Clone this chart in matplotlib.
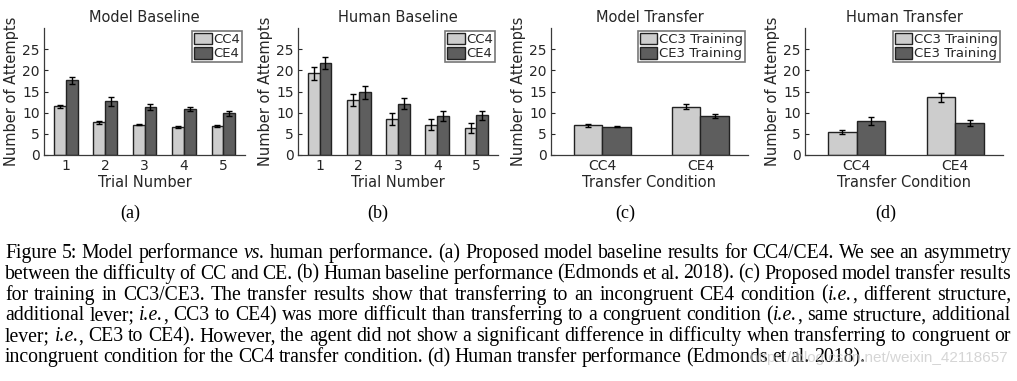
import numpy as np
import matplotlib
matplotlib.use("Agg")
import matplotlib.pyplot as plt

# --- data ---
trials = [1, 2, 3, 4, 5]
model_cc4 = [11.5, 7.7, 7.2, 6.6, 6.9]
model_cc4_err = [0.3, 0.3, 0.2, 0.2, 0.3]
model_ce4 = [17.6, 12.7, 11.4, 10.9, 9.9]
model_ce4_err = [0.9, 1.1, 0.7, 0.5, 0.6]

human_cc4 = [19.3, 12.9, 8.5, 7.2, 6.4]
human_cc4_err = [1.5, 1.4, 1.5, 1.2, 1.1]
human_ce4 = [21.8, 14.8, 12.1, 9.3, 9.4]
human_ce4_err = [1.4, 1.5, 1.3, 1.2, 1.1]

transfer_conds = ["CC4", "CE4"]
model_cc3 = [7.0, 11.4]
model_cc3_err = [0.3, 0.6]
model_ce3 = [6.7, 9.2]
model_ce3_err = [0.2, 0.5]

human_cc3 = [5.4, 13.6]
human_cc3_err = [0.4, 1.0]
human_ce3 = [8.1, 7.6]
human_ce3_err = [0.9, 0.7]

caption = [
    "Figure 5: Model performance *vs.* human performance. (a) Proposed model baseline results for CC4/CE4. We see an asymmetry",
    "between the difficulty of CC and CE. (b) Human baseline performance (Edmonds et al. 2018). (c) Proposed model transfer results",
    "for training in CC3/CE3. The transfer results show that transferring to an incongruent CE4 condition (*i.e.*, different structure,",
    "additional lever; *i.e.*, CC3 to CE4) was more difficult than transferring to a congruent condition (*i.e.*, same structure, additional",
    "lever; *i.e.*, CE3 to CE4). However, the agent did not show a significant difference in difficulty when transferring to congruent or",
    "incongruent condition for the CC4 transfer condition. (d) Human transfer performance (Edmonds et al. 2018).",
]

W, H = 1017, 381
LIGHT = "#cdcdcd"
DARK = "#5e5e5e"
TXT = "#262626"

fig = plt.figure(figsize=(W / 100, H / 100), dpi=100)
plt.rcParams["font.family"] = "DejaVu Sans"


def make_axes(left, right):
    return fig.add_axes([left / W, (H - 155) / H, (right - left) / W, 127 / H])


def style(ax, title, xlabel):
    ax.set_ylim(0, 30)
    ax.set_yticks([0, 5, 10, 15, 20, 25])
    ax.set_title(title, fontsize=10.5, color=TXT, pad=4)
    ax.set_xlabel(xlabel, fontsize=10.5, color=TXT, labelpad=1)
    ax.set_ylabel("Number of Attempts", fontsize=10.5, color=TXT, labelpad=2)
    for s in ["top", "right"]:
        ax.spines[s].set_visible(False)
    for s in ["left", "bottom"]:
        ax.spines[s].set_color("#3a3a3a")
        ax.spines[s].set_linewidth(0.9)
    ax.tick_params(direction="in", length=3, labelsize=10, colors=TXT, pad=3)


def grouped(ax, x, a, ae, b, be, w, labels):
    x = np.asarray(x, dtype=float)
    ek = dict(ecolor="black", elinewidth=1, capsize=2, capthick=1)
    ax.bar(x - w / 2, a, w, yerr=ae, color=LIGHT, edgecolor="#222222",
           linewidth=1, label=labels[0], error_kw=ek)
    ax.bar(x + w / 2, b, w, yerr=be, color=DARK, edgecolor="#222222",
           linewidth=1, label=labels[1], error_kw=ek)
    leg = ax.legend(loc="upper right", fontsize=9.5, frameon=True, fancybox=False,
                    handlelength=1.3, handleheight=1.0, handletextpad=0.15,
                    borderpad=0.15, labelspacing=0.05, borderaxespad=0.2)
    leg.get_frame().set_edgecolor("#555555")
    leg.get_frame().set_linewidth(1.2)
    for t in leg.get_texts():
        t.set_color(TXT)


ax1 = make_axes(44, 245)
grouped(ax1, trials, model_cc4, model_cc4_err, model_ce4, model_ce4_err, 0.3, ["CC4", "CE4"])
ax1.set_xlim(0.45, 5.55)
ax1.set_xticks(trials)
style(ax1, "Model Baseline", "Trial Number")

ax2 = make_axes(298, 498)
grouped(ax2, trials, human_cc4, human_cc4_err, human_ce4, human_ce4_err, 0.3, ["CC4", "CE4"])
ax2.set_xlim(0.45, 5.55)
ax2.set_xticks(trials)
style(ax2, "Human Baseline", "Trial Number")

xt = np.arange(1, len(transfer_conds) + 1)
ax3 = make_axes(551, 748)
grouped(ax3, xt, model_cc3, model_cc3_err, model_ce3, model_ce3_err, 0.29,
        ["CC3 Training", "CE3 Training"])
ax3.set_xlim(0.475, 2.485)
ax3.set_xticks(xt, transfer_conds)
style(ax3, "Model Transfer", "Transfer Condition")

ax4 = make_axes(805, 1003)
grouped(ax4, xt, human_cc3, human_cc3_err, human_ce3, human_ce3_err, 0.29,
        ["CC3 Training", "CE3 Training"])
ax4.set_xlim(0.475, 2.485)
ax4.set_xticks(xt, transfer_conds)
style(ax4, "Human Transfer", "Transfer Condition")

serif = "Liberation Serif"
for lab, xc in zip(["(a)", "(b)", "(c)", "(d)"], [130, 378, 625, 886]):
    fig.text(xc / W, 1 - 213 / H, lab, family=serif, fontsize=13,
             ha="center", va="center", color="black")

# --- caption, justified word by word ---
renderer = fig.canvas.get_renderer()
left_px, right_px = 5, 1011


def pieces(word):
    parts = word.split("*")
    return [(p, i % 2 == 1) for i, p in enumerate(parts) if p]


def width(s, italic, size):
    t = fig.text(0, 0, s, family=serif, fontsize=size,
                 style="italic" if italic else "normal")
    w = t.get_window_extent(renderer).width
    t.remove()
    return w


def natural(line, size):
    sp = width("a b", False, size) - width("ab", False, size)
    words = line.split(" ")
    tot = sum(width(p, it, size) for wd in words for p, it in pieces(wd))
    return tot + 0.75 * sp * (len(words) - 1)


# pick the largest size at which every line still fits with tight spacing
size = 15.0
while max(natural(l, size) for l in caption[:-1]) > right_px - left_px:
    size -= 0.2

space_w = width("a b", False, size) - width("ab", False, size)
for i, line in enumerate(caption):
    words = line.split(" ")
    wl = [[(p, it, width(p, it, size)) for p, it in pieces(wd)] for wd in words]
    total = sum(sum(pc[2] for pc in wd) for wd in wl)
    last = i == len(caption) - 1
    gap = space_w * 0.85 if last else (right_px - left_px - total) / (len(words) - 1)
    x = left_px
    y = 1 - (258 + 20.8 * i) / H
    for wd in wl:
        for p, it, w in wd:
            fig.text(x / W, y, p, family=serif, fontsize=size,
                     style="italic" if it else "normal", va="baseline", color="black")
            x += w
        x += gap

fig.text(1008 / W, 1 - (258 + 20.8 * 5) / H, "https://blog.csdn.net/weixin_42118657",
         fontsize=11, color="#c4c4c4", alpha=0.7, ha="right", va="baseline",
         family="Liberation Sans")

fig.savefig("out.png", dpi=100)
